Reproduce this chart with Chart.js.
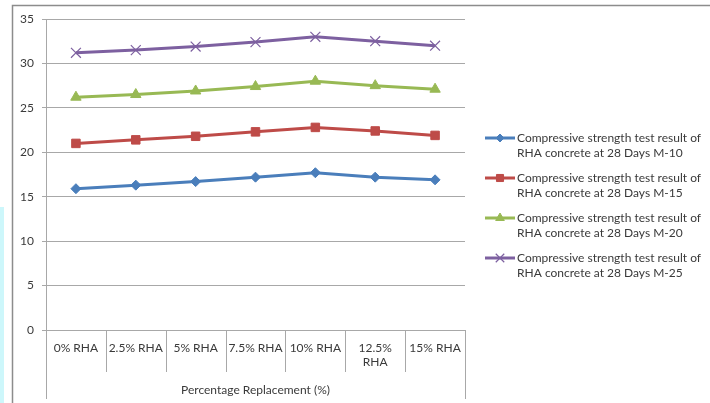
<!DOCTYPE html>
<html>
<head>
<meta charset="utf-8">
<script src="https://cdn.jsdelivr.net/npm/chart.js@4/dist/chart.umd.min.js"></script>
<style>
  html, body { margin: 0; padding: 0; background: #fff; }
  #wrap { position: relative; width: 710px; height: 403px; }
  #strip { position: absolute; left: 0; top: 207px; width: 4px; height: 196px; background: #cdf7fb; }
</style>
</head>
<body>
<div id="wrap">
  <canvas id="c" width="710" height="403"></canvas>
  <div id="strip"></div>
</div>
<script>
// Categories (RHA replacement level)
const categories = ['0% RHA', '2.5% RHA', '5% RHA', '7.5% RHA', '10% RHA', ['12.5%', 'RHA'], '15% RHA'];

// 28-day compressive strength (N/mm²) per mix grade
const m10 = [15.9, 16.3, 16.7, 17.2, 17.7, 17.2, 16.9];
const m15 = [21.0, 21.4, 21.8, 22.3, 22.8, 22.4, 21.9];
const m20 = [26.2, 26.5, 26.9, 27.4, 28.0, 27.5, 27.1];
const m25 = [31.2, 31.5, 31.9, 32.4, 33.0, 32.5, 32.0];

const seriesLabels = [
  ['Compressive strength test result of', 'RHA concrete at 28 Days M-10'],
  ['Compressive strength test result of', 'RHA concrete at 28 Days M-15'],
  ['Compressive strength test result of', 'RHA concrete at 28 Days M-20'],
  ['Compressive strength test result of', 'RHA concrete at 28 Days M-25']
];

const yTicks = [0, 5, 10, 15, 20, 25, 30, 35];
const xTitle = 'Percentage Replacement (%)';

const FONT = 'Lato, "Open Sans", sans-serif';
const TEXT = '#3a3a3a';
const GRID = '#a8a8a8';

function series(label, data, color, style, radius, bw) {
  return {
    label, data,
    borderColor: color, backgroundColor: color,
    borderWidth: 3,
    pointStyle: style, pointRadius: radius, pointHoverRadius: radius,
    pointBorderColor: color, pointBackgroundColor: color,
    pointBorderWidth: bw,
    tension: 0
  };
}

// Frame, category separators and a two-line legend on the right
const decor = {
  id: 'decor',
  beforeDraw(chart) {
    const ctx = chart.ctx;
    ctx.save();
    ctx.strokeStyle = '#8c8c8c';
    ctx.lineWidth = 1.5;
    ctx.beginPath();
    ctx.moveTo(12.5, 410);
    ctx.lineTo(12.5, 5.5);
    ctx.lineTo(720, 5.5);
    ctx.stroke();
    ctx.restore();
  },
  afterDraw(chart) {
    const ctx = chart.ctx;
    const x = chart.scales.x;
    const area = chart.chartArea;
    ctx.save();
    ctx.strokeStyle = GRID;
    ctx.lineWidth = 1;
    ctx.beginPath();
    // separators between category labels
    for (let i = 0; i < categories.length - 1; i++) {
      const px = Math.round((x.getPixelForValue(i) + x.getPixelForValue(i + 1)) / 2) + 0.5;
      ctx.moveTo(px, area.bottom);
      ctx.lineTo(px, area.bottom + 42);
    }
    // outer edges of the category band
    const l = Math.round(area.left) + 0.5, r = Math.round(area.right) + 0.5;
    ctx.moveTo(l, area.bottom);
    ctx.lineTo(l, area.bottom + 69);
    ctx.moveTo(r, area.bottom);
    ctx.lineTo(r, area.bottom + 69);
    ctx.stroke();

    // legend
    const rows = [138, 178, 218, 258];
    chart.data.datasets.forEach((ds, i) => {
      const y = rows[i];
      ctx.strokeStyle = ds.borderColor;
      ctx.fillStyle = ds.backgroundColor;
      ctx.lineWidth = 3;
      ctx.beginPath();
      ctx.moveTo(485, y);
      ctx.lineTo(515, y);
      ctx.stroke();
      ctx.lineWidth = ds.pointBorderWidth;
      Chart.helpers.drawPoint(ctx, {
        pointStyle: ds.pointStyle,
        radius: ds.pointRadius - 1,
        rotation: 0,
        borderWidth: ds.pointBorderWidth
      }, 500, y);
      ctx.fillStyle = TEXT;
      ctx.font = '12px ' + FONT;
      ctx.textBaseline = 'middle';
      ctx.textAlign = 'left';
      ctx.fillText(seriesLabels[i][0], 517, y);
      ctx.fillText(seriesLabels[i][1], 517, y + 15);
    });
    ctx.restore();
  }
};

new Chart(document.getElementById('c'), {
  type: 'line',
  data: {
    labels: categories,
    datasets: [
      series(seriesLabels[0].join(' '), m10, '#4A7EBB', 'rectRot', 5, 1),
      series(seriesLabels[1].join(' '), m15, '#BE4B48', 'rect', 6, 1),
      series(seriesLabels[2].join(' '), m20, '#98B954', 'triangle', 6, 1),
      series(seriesLabels[3].join(' '), m25, '#7D60A0', 'crossRot', 7, 1.2)
    ]
  },
  options: {
    responsive: false,
    animation: false,
    events: [],
    layout: { padding: { left: 0, right: 245, top: 19, bottom: 0 } },
    plugins: { legend: { display: false }, tooltip: { enabled: false } },
    scales: {
      x: {
        type: 'category',
        offset: true,
        grid: { display: false, drawTicks: false },
        border: { display: false },
        ticks: {
          color: TEXT, font: { family: FONT, size: 12 },
          padding: 11, maxRotation: 0, autoSkip: false
        },
        title: {
          display: true, text: xTitle, color: TEXT,
          font: { family: FONT, size: 12 }, padding: { top: 0, bottom: 6 }
        },
        afterFit(scale) { scale.height = 73; }
      },
      y: {
        min: 0, max: 35,
        afterBuildTicks(scale) { scale.ticks = yTicks.map(v => ({ value: v })); },
        grid: { color: GRID, lineWidth: 1, drawTicks: true, tickLength: 4, tickColor: GRID },
        border: { display: true, color: GRID, width: 1 },
        ticks: { color: TEXT, font: { family: FONT, size: 12 }, padding: 8 },
        afterFit(scale) { scale.width = 46; }
      }
    }
  },
  plugins: [decor]
});
</script>
</body>
</html>
